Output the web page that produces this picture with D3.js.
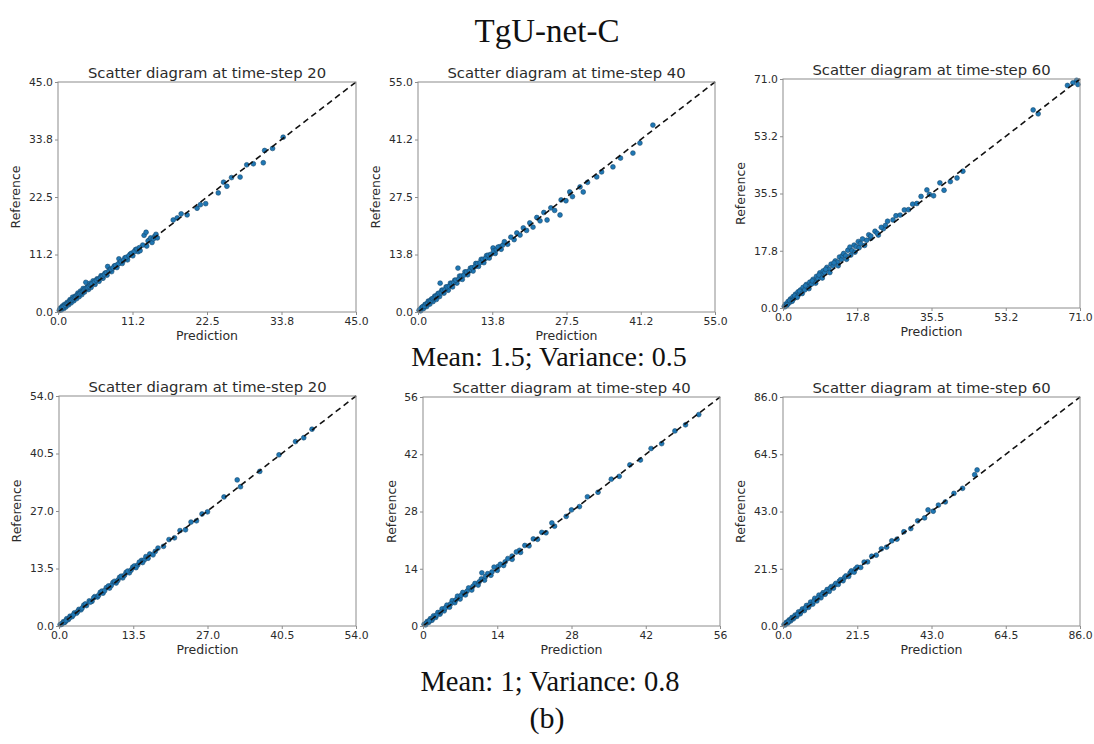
<!DOCTYPE html>
<html>
<head>
<meta charset="utf-8">
<script src="https://cdn.jsdelivr.net/npm/d3@7"></script>
<style>
  body { margin: 0; background: #fff; }
  text { font-family: "DejaVu Sans", sans-serif; }
  .serif { font-family: "Liberation Serif", "Times New Roman", serif; }
</style>
</head>
<body>
<svg id="fig" width="1094" height="744"></svg>
<script>
// ---- text content ----
const figureTitle = "TgU-net-C";
const rowCaptions = ["Mean: 1.5; Variance: 0.5", "Mean: 1; Variance: 0.8"];
const figureTag = "(b)";
const timeSteps = [20, 40, 60, 20, 40, 60];
const xLabel = "Prediction";
const yLabel = "Reference";

// ---- axis ranges and ticks (five evenly spaced ticks per axis) ----
const axisMax = [45, 55, 71, 54, 56, 86];
const tickValues = [
  [0, 11.25, 22.5, 33.75, 45],
  [0, 13.75, 27.5, 41.25, 55],
  [0, 17.75, 35.5, 53.25, 71],
  [0, 13.5, 27, 40.5, 54],
  [0, 14, 28, 42, 56],
  [0, 21.5, 43, 64.5, 86]
];
const tickLabels = [
  ["0.0", "11.2", "22.5", "33.8", "45.0"],
  ["0.0", "13.8", "27.5", "41.2", "55.0"],
  ["0.0", "17.8", "35.5", "53.2", "71.0"],
  ["0.0", "13.5", "27.0", "40.5", "54.0"],
  ["0", "14", "28", "42", "56"],
  ["0.0", "21.5", "43.0", "64.5", "86.0"]
];

// ---- scatter samples: [prediction, reference] ----
const top20 = [
  [0.2,0.3],[0.4,0.8],[0.5,0.4],[0.7,1.2],[0.9,0.7],[1.0,1.5],[1.2,1.0],[1.4,1.9],[1.6,1.4],[1.8,2.4],
  [2.0,1.8],[2.2,2.9],[2.4,2.2],[2.6,3.1],[2.8,2.6],[3.0,3.7],[3.2,3.0],[3.4,4.1],[3.6,3.4],[3.8,4.6],
  [4.0,3.9],[4.2,5.8],[4.4,4.9],[4.6,4.4],[4.8,5.6],[5.0,4.8],[5.3,6.1],[5.6,5.4],[5.9,6.5],[6.2,6.0],
  [6.5,7.1],[6.8,6.6],[7.1,7.6],[7.5,8.9],[7.4,7.2],[7.8,8.3],[8.1,7.9],[8.5,9.0],[8.9,8.7],[9.2,10.4],
  [9.3,9.6],[9.7,9.5],[10.1,10.6],[10.5,10.2],[10.9,11.3],[11.3,11.0],[11.7,12.2],[12.1,11.8],[12.4,12.0],
  [12.8,13.1],[13.0,15.0],[13.3,15.6],[13.4,12.9],[13.8,14.1],[14.2,13.6],[14.6,14.8],[15.0,14.5],
  [0.3,0.6],[0.6,0.9],[0.8,1.0],[1.1,1.3],[1.3,1.6],[1.5,1.7],[1.7,2.0],[1.9,2.2],[2.1,2.4],[2.3,2.6],
  [2.5,2.8],[2.7,3.0],[2.9,3.3],[3.1,3.4],[3.3,3.6],[3.5,3.8],[3.7,4.0],[3.9,4.3],[4.1,4.5],[4.3,4.7],
  [4.5,4.8],[4.7,5.0],[4.9,5.3],[5.1,5.5],[5.5,5.9],[5.8,6.2],[6.1,6.4],[6.4,6.7],[6.7,7.0],[7.0,7.3],
  [7.3,7.7],[7.7,8.0],[8.0,8.4],[8.3,8.6],[8.7,9.1],[9.1,9.4],[9.5,9.9],[9.9,10.1],[10.3,10.7],[10.7,11.0],
  [11.1,11.5],[11.5,11.8],[11.9,12.3],[12.3,12.6],[13.6,13.9],[14.0,14.5],[14.4,14.3],[14.8,15.2],
  [17.4,18.0],[18.0,18.4],[18.6,19.2],[19.5,19.0],[21.0,20.3],[21.5,21.0],[22.3,21.2],[24.2,23.3],
  [25.0,25.4],[25.5,24.6],[26.2,26.3],[27.5,26.4],[28.5,28.8],[29.5,29.0],[31.0,29.2],[31.2,31.6],
  [32.4,32.0],[34.0,34.2]
];
const top40 = [
  [0.2,0.4],[0.5,0.3],[0.7,1.1],[1.0,0.8],[1.3,1.8],[1.6,1.3],[1.9,2.6],[2.2,1.9],[2.5,3.1],[2.8,2.5],
  [3.1,3.8],[3.4,3.0],[3.7,4.4],[4.1,6.9],[4.0,3.7],[4.4,5.2],[4.8,4.5],[5.2,6.0],[5.6,5.2],[6.0,6.9],
  [6.4,6.0],[6.8,7.6],[7.4,10.5],[7.2,6.9],[7.7,8.6],[8.2,7.8],[8.7,9.6],[9.2,8.9],[9.7,10.5],[10.2,9.8],
  [10.7,11.6],[11.2,10.9],[11.7,12.6],[12.2,11.8],[12.7,13.5],[13.2,12.9],[13.9,15.3],[14.3,14.0],
  [0.4,0.7],[0.9,1.3],[1.2,1.4],[1.5,1.9],[1.8,2.1],[2.1,2.6],[2.4,2.7],[2.7,3.2],[3.0,3.3],[3.3,3.8],
  [3.6,3.9],[3.9,4.5],[4.3,4.6],[4.6,5.2],[5.0,5.3],[5.4,6.0],[5.8,6.1],[6.2,6.8],[6.6,7.0],[7.0,7.6],
  [7.5,7.8],[8.0,8.6],[8.5,8.8],[9.0,9.6],[9.5,9.8],[10.0,10.6],[10.5,10.8],[11.0,11.6],[11.5,11.8],
  [12.0,12.6],[12.5,12.8],[13.0,13.6],[13.5,13.8],[14.0,14.6],[14.5,14.9],[15.1,15.6],[15.7,16.0],
  [14.8,15.5],[15.4,15.0],[16.0,16.8],[16.6,16.2],[17.2,17.9],[17.8,17.3],[18.3,18.9],[18.9,18.4],
  [19.5,20.1],[20.1,19.5],[20.7,21.3],[21.3,20.3],[22.0,22.6],[22.6,21.8],[23.3,23.8],[23.9,22.0],
  [24.6,24.9],[25.3,24.3],[26.3,23.2],[26.5,26.8],[27.4,26.6],[28.1,28.7],[28.6,27.6],[30.0,29.9],
  [30.6,28.7],[31.4,31.0],[33.1,32.3],[34.0,33.5],[36.1,34.7],[37.5,36.8],[39.8,38.0],[41.1,40.4],
  [43.5,44.7]
];
const top60 = [
  [0.3,0.5],[0.6,1.2],[0.9,0.8],[1.2,2.0],[1.5,1.6],[1.8,2.8],[2.1,2.3],[2.4,3.5],[2.7,3.0],[3.0,4.3],
  [3.3,3.6],[3.6,5.0],[3.9,4.3],[4.2,5.6],[4.5,5.0],[4.8,6.4],[5.2,5.6],[5.6,7.3],[6.0,6.6],[6.4,8.0],
  [6.8,7.4],[7.2,8.9],[7.6,8.2],[8.0,9.8],[8.4,9.1],[8.8,10.9],[9.2,10.2],[9.6,11.5],[10.0,11.0],
  [10.5,12.6],[11.0,12.0],[11.5,13.6],[12.0,13.0],[12.5,14.6],[13.0,14.2],[13.5,15.8],[14.0,15.0],
  [0.5,0.4],[1.0,1.0],[1.6,2.3],[2.2,2.1],[2.8,3.8],[3.4,3.3],[4.0,5.2],[4.6,4.5],[5.4,6.9],[6.2,6.0],
  [7.0,8.4],[7.8,7.7],[8.6,10.2],[9.4,9.3],[10.2,12.0],[11.2,11.0],[12.2,14.0],[13.2,13.1],[14.2,16.2],
  [14.5,16.9],[15.0,16.2],[15.5,17.9],[16.0,18.9],[16.5,17.8],[17.0,19.5],[17.5,19.0],[18.0,20.6],
  [15.2,15.1],[16.2,16.4],[17.2,17.3],[18.2,18.7],[19.5,19.4],[21.0,21.6],[22.8,22.6],[24.0,24.6],
  [18.5,20.0],[19.0,21.4],[20.0,21.0],[20.5,22.7],[21.0,22.3],[22.0,23.8],[22.5,23.2],[23.5,25.0],
  [24.5,25.6],[25.0,26.9],[26.3,27.3],[27.0,28.6],[28.0,28.8],[29.0,30.4],[30.0,30.5],[31.0,32.2],
  [32.0,32.4],[33.0,34.6],[34.4,36.6],[35.0,35.2],[36.0,34.8],[37.5,38.8],[38.5,36.5],[40.0,39.2],
  [41.6,40.3],[43.0,42.4],[59.8,61.4],[61.0,60.2],[68.0,69.0],[69.3,69.8],[70.2,70.6],[70.5,69.3]
];
const bottom20 = [
  [0.2,0.3],[0.5,0.4],[0.8,1.0],[1.1,0.9],[1.4,1.7],[1.7,1.5],[2.0,2.3],[2.4,2.2],[2.8,3.1],[3.2,3.0],
  [3.6,3.9],[4.0,3.8],[4.5,4.9],[5.0,4.8],[5.5,5.9],[6.0,5.8],[6.5,6.9],[7.0,6.8],[7.5,7.9],[8.0,7.7],
  [8.6,9.0],[9.2,8.9],[9.8,10.2],[10.4,10.1],[11.0,11.4],[11.6,11.3],[12.2,12.6],[12.8,12.5],[13.4,13.8],
  [0.4,0.5],[0.9,0.8],[1.3,1.3],[1.9,1.9],[2.6,2.6],[3.4,3.4],[4.2,4.2],[4.8,5.2],[5.7,5.6],[6.3,6.6],
  [7.2,7.2],[7.8,8.2],[8.3,8.3],[9.0,9.4],[9.5,9.5],[10.1,10.5],[10.7,10.7],[11.3,11.7],[11.9,11.9],
  [12.5,12.9],[13.1,13.1],[13.7,14.1],[14.3,14.3],[15.0,15.4],[15.5,15.5],[16.5,16.9],[17.5,17.5],
  [14.0,13.7],[14.6,15.0],[15.2,14.9],[15.8,16.3],[16.2,15.9],[17.1,16.7],[18.0,18.3],[19.0,18.7],
  [20.0,20.3],[21.0,20.7],[22.0,22.4],[23.0,22.6],[24.0,24.4],[25.0,24.7],[26.0,26.3],[27.0,26.8],
  [30.0,30.3],[32.4,34.3],[33.0,32.7],[36.5,36.3],[40.0,40.2],[43.0,43.3],[44.5,44.2],[46.0,46.2]
];
const bottom40 = [
  [0.2,0.4],[0.5,0.3],[0.8,1.1],[1.1,0.9],[1.4,1.8],[1.7,1.4],[2.0,2.5],[2.4,2.1],[2.8,3.3],[3.2,2.9],
  [3.6,4.2],[4.0,3.7],[4.5,5.1],[5.0,4.6],[5.5,6.2],[6.0,5.7],[6.5,7.3],[7.0,6.6],[7.5,8.2],[8.0,7.6],
  [8.6,9.3],[9.2,8.8],[9.8,10.4],[10.4,10.0],[11.1,13.0],[11.0,11.5],[11.6,11.2],[12.2,12.8],[12.8,12.4],
  [0.6,0.7],[1.2,1.3],[1.8,1.9],[2.5,2.6],[3.3,3.4],[4.2,4.4],[5.2,5.4],[6.2,6.4],[7.2,7.5],[8.3,8.5],
  [9.4,9.7],[10.6,10.8],[11.8,12.1],[13.0,13.2],[14.2,14.6],[15.5,15.7],[16.8,17.1],[18.2,18.5],
  [13.4,14.4],[14.0,13.6],[14.6,15.1],[15.2,14.8],[16.0,16.5],[16.8,16.3],[17.6,18.1],[18.4,18.0],
  [19.2,19.7],[20.0,19.6],[20.8,21.3],[21.6,21.2],[22.4,22.9],[23.2,22.8],[24.3,25.2],[24.8,24.4],
  [27.0,26.8],[28.0,28.4],[29.5,29.2],[31.0,31.6],[33.0,32.7],[35.5,35.9],[37.0,36.6],[39.0,39.4],
  [41.0,40.6],[43.0,43.4],[45.0,44.6],[47.5,47.7],[49.5,49.2],[52.0,51.7]
];
const bottom60 = [
  [0.3,0.5],[0.6,0.4],[1.0,1.4],[1.4,1.1],[1.8,2.3],[2.2,1.9],[2.6,3.2],[3.0,2.7],[3.5,4.1],[4.0,3.6],
  [4.5,5.3],[5.0,4.6],[5.6,6.4],[6.2,5.8],[6.8,7.7],[7.4,7.0],[8.0,9.0],[8.6,8.2],[9.2,10.4],[9.8,9.4],
  [10.4,11.6],[11.0,10.6],[11.6,12.5],[12.2,11.9],[12.8,13.7],[13.4,13.0],[14.0,14.8],[14.6,14.2],
  [0.8,0.9],[1.6,1.7],[2.4,2.6],[3.3,3.4],[4.2,4.4],[5.3,5.5],[6.5,6.8],[7.7,8.0],[8.9,9.3],[10.1,10.5],
  [11.3,11.8],[12.5,12.9],[13.7,14.2],[15.0,15.4],[16.3,16.8],[17.8,18.2],[19.4,19.9],[21.0,21.4],
  [15.3,16.0],[16.0,15.6],[16.7,17.4],[17.4,17.0],[18.2,18.8],[19.0,18.6],[19.8,20.7],[20.6,20.2],
  [21.5,22.1],[22.5,22.0],[23.5,24.0],[24.5,24.1],[25.7,26.2],[27.0,26.6],[28.5,29.0],[30.0,29.6],
  [31.5,32.0],[33.0,32.6],[35.0,35.4],[37.0,36.6],[39.0,39.5],[41.0,40.6],[42.0,43.6],[43.5,43.1],
  [45.0,45.4],[47.0,46.6],[49.5,49.8],[52.0,51.7],[55.5,56.8],[56.2,58.6]
];
const panelData = [top20, top40, top60, bottom20, bottom40, bottom60];

// ---- layout: plot boxes in page pixels ----
const boxes = [
  { x0: 58,  x1: 356,  y0: 82,  y1: 312 },
  { x0: 418, x1: 715,  y0: 82,  y1: 312 },
  { x0: 783, x1: 1080, y0: 79,  y1: 308 },
  { x0: 59,  x1: 356,  y0: 396, y1: 626 },
  { x0: 423, x1: 720,  y0: 397, y1: 626 },
  { x0: 783, x1: 1080, y0: 397, y1: 626 }
];

const svg = d3.select("#fig");
const tickFont = 10.8, labelFont = 12.5, titleFont = 14.8;
const spineColor = "#8c8c8c", textColor = "#2b2b2b";

// Headline and captions
svg.append("text").attr("class", "serif")
  .attr("x", 547).attr("y", 42).attr("text-anchor", "middle")
  .attr("font-size", 33).attr("fill", "#111").text(figureTitle);
svg.append("text").attr("class", "serif")
  .attr("x", 549).attr("y", 366).attr("text-anchor", "middle")
  .attr("font-size", 28).attr("fill", "#111").text(rowCaptions[0]);
svg.append("text").attr("class", "serif")
  .attr("x", 550).attr("y", 691).attr("text-anchor", "middle")
  .attr("font-size", 28.5).attr("fill", "#111").text(rowCaptions[1]);
svg.append("text").attr("class", "serif")
  .attr("x", 547).attr("y", 728).attr("text-anchor", "middle")
  .attr("font-size", 30).attr("fill", "#111").text(figureTag);

panelData.forEach((pts, i) => {
  const b = boxes[i];
  const w = b.x1 - b.x0, h = b.y1 - b.y0;
  const x = d3.scaleLinear().domain([0, axisMax[i]]).range([0, w]);
  const y = d3.scaleLinear().domain([0, axisMax[i]]).range([h, 0]);
  const g = svg.append("g").attr("transform", `translate(${b.x0},${b.y0})`);

  // scatter points
  g.append("g").selectAll("circle").data(pts).join("circle")
    .attr("cx", d => x(d[0])).attr("cy", d => y(d[1]))
    .attr("r", 2.4)
    .attr("fill", "#1f77b4")
    .attr("stroke", "#17496f").attr("stroke-width", 0.6);

  // identity line
  g.append("line")
    .attr("x1", x(0)).attr("y1", y(0))
    .attr("x2", x(axisMax[i])).attr("y2", y(axisMax[i]))
    .attr("stroke", "#111").attr("stroke-width", 1.6)
    .attr("stroke-dasharray", "6,4");

  // axes
  const fmt = (d, k) => tickLabels[i][k];
  const xa = g.append("g").attr("transform", `translate(0,${h})`)
    .call(d3.axisBottom(x).tickValues(tickValues[i]).tickFormat(fmt).tickSize(3).tickSizeOuter(0).tickPadding(2));
  const ya = g.append("g")
    .call(d3.axisLeft(y).tickValues(tickValues[i]).tickFormat(fmt).tickSize(3).tickSizeOuter(0).tickPadding(2));
  [xa, ya].forEach(a => {
    a.select(".domain").remove();
    a.selectAll(".tick line").attr("stroke", spineColor);
    a.selectAll(".tick text").attr("fill", textColor)
      .attr("font-size", tickFont).attr("font-family", "DejaVu Sans, sans-serif");
  });

  // frame
  g.append("rect").attr("x", 0).attr("y", 0).attr("width", w).attr("height", h)
    .attr("fill", "none").attr("stroke", spineColor).attr("stroke-width", 1);

  // title
  g.append("text").attr("x", w / 2).attr("y", -4).attr("text-anchor", "middle")
    .attr("font-size", titleFont).attr("fill", textColor)
    .text(`Scatter diagram at time-step ${timeSteps[i]}`);

  // axis labels
  g.append("text").attr("x", w / 2).attr("y", h + 28).attr("text-anchor", "middle")
    .attr("font-size", labelFont).attr("fill", textColor).text(xLabel);
  let maxW = 0;
  ya.selectAll(".tick text").each(function () { maxW = Math.max(maxW, this.getComputedTextLength()); });
  g.append("text")
    .attr("transform", `translate(${-(maxW + 18)},${h / 2}) rotate(-90)`)
    .attr("text-anchor", "middle").attr("dy", "0.35em")
    .attr("font-size", labelFont).attr("fill", textColor).text(yLabel);
});
</script>
</body>
</html>
